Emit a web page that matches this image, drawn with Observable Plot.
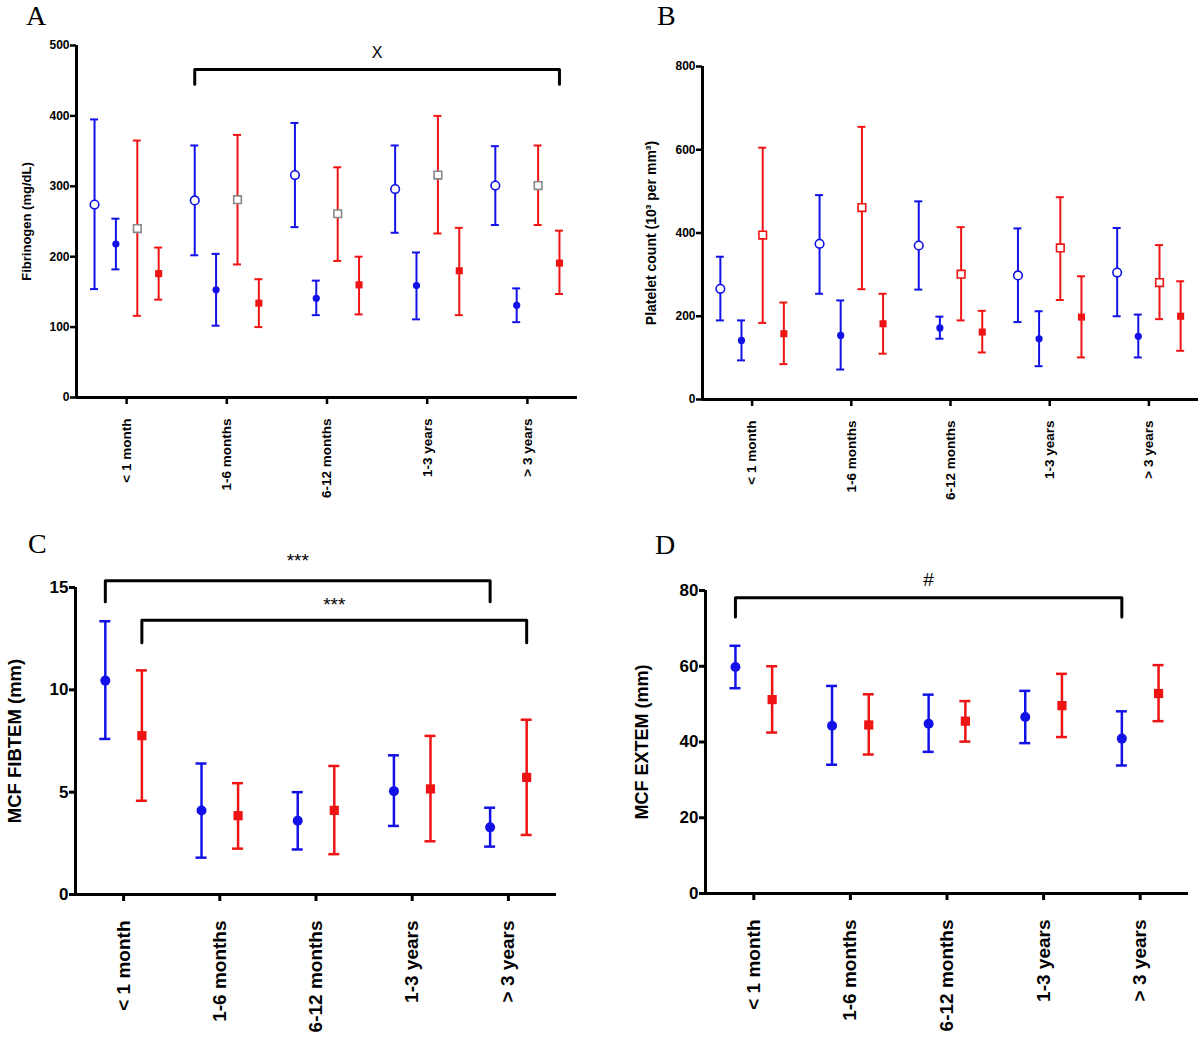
<!DOCTYPE html>
<html><head><meta charset="utf-8">
<script src="https://cdn.jsdelivr.net/npm/d3@7"></script>
<script src="https://cdn.jsdelivr.net/npm/@observablehq/plot@0.6"></script>
<style>
body{margin:0;background:#fff;}
#wrap{position:relative;width:1200px;height:1039px;background:#fff;overflow:hidden}
.panel{position:absolute}
.letter{position:absolute;font-family:"Liberation Serif","Times New Roman",serif;font-size:28px;color:#000;line-height:1.1}
</style></head><body><div id="wrap"></div>
<script>
// ---------- data ----------
const categories = ["< 1 month", "1-6 months", "6-12 months", "1-3 years", "> 3 years"];

// Panel A: Fibrinogen (mg/dL), each entry [mean, low, high] per category
const fibBlueOpen   = [[274,154,395],[280,202,358],[316,242,390],[296,234,358],[301,245,357]];
const fibBlueFilled = [[218,182,254],[153,102,204],[141,117,166],[159,111,206],[131,107,155]];
const fibGrayOpen   = [[240,116,365],[281,189,373],[261,194,327],[316,233,400],[301,245,358]];
const fibRedFilled  = [[176,139,213],[134,100,168],[160,118,200],[180,117,241],[191,147,237]];
const fibTicks = [0,100,200,300,400,500];

// Panel B: Platelet count
const pltBlueOpen   = [[266,190,343],[374,254,491],[370,264,476],[298,186,411],[305,200,412]];
const pltBlueFilled = [[142,94,190],[154,72,238],[172,146,199],[146,80,212],[152,101,204]];
const pltRedOpen    = [[395,184,605],[461,265,655],[301,190,414],[364,239,486],[281,193,371]];
const pltRedFilled  = [[158,85,233],[182,110,254],[162,113,213],[198,101,296],[200,117,284]];
const pltTicks = [0,200,400,600,800];

// Panel C: MCF FIBTEM (mm)
const fibtemBlue = [[10.45,7.6,13.35],[4.1,1.8,6.4],[3.6,2.2,5.0],[5.05,3.35,6.8],[3.28,2.34,4.24]];
const fibtemRed  = [[7.76,4.58,10.95],[3.85,2.24,5.44],[4.11,1.97,6.28],[5.16,2.6,7.75],[5.72,2.91,8.54]];
const fibtemTicks = [0,5,10,15];

// Panel D: MCF EXTEM (mm)
const extemBlue = [[59.8,54.2,65.4],[44.3,34.0,54.8],[44.8,37.4,52.5],[46.6,39.7,53.5],[40.9,33.8,48.1]];
const extemRed  = [[51.2,42.5,60.0],[44.5,36.7,52.6],[45.5,40.1,50.8],[49.6,41.3,58.0],[52.8,45.5,60.3]];
const extemTicks = [0,20,40,60,80];

// significance brackets: from [category, series] to [category, series], bar level, end level, label level
const bracketsA = [{from:[1,0], to:[4,3], y:466, end:445, ty:490, label:"X"}];
const bracketsC = [
  {from:[0,0], to:[4,0], y:15.33, end:14.3, ty:16.3, label:"***"},
  {from:[0,1], to:[4,1], y:13.4, end:12.3, ty:14.15, label:"***"}
];
const bracketsD = [{from:[0,0], to:[4,0], y:78.1, end:73, ty:82.8, label:"#"}];

// ---------- styles ----------
const BLUE = "#1212e8", RED = "#ee1414", GRAY = "#888888";
const FONT = "'Liberation Sans', Arial, Helvetica, sans-serif";

function panel(cfg) {
  const {series, offsets, yDomain, yTicks, yLabel, width, height, margins, tickFont, xFont, labelFont,
         labelDx, cap, barW, brackets, bracketFont, axisW, xPad} = cfg;
  const X = (ci, si) => ci + offsets[si];
  const marks = [];
  series.forEach((s, si) => {
    const rows = s.values.map((v, ci) => ({x: X(ci, si), mean: v[0], lo: v[1], hi: v[2]}));
    marks.push(Plot.ruleX(rows, {x: "x", y1: "lo", y2: "hi", stroke: s.bar, strokeWidth: barW}));
    marks.push(Plot.ruleY(rows, {x1: "x", x2: "x", y: "hi", stroke: s.bar, strokeWidth: barW, insetLeft: -cap, insetRight: -cap}));
    marks.push(Plot.ruleY(rows, {x1: "x", x2: "x", y: "lo", stroke: s.bar, strokeWidth: barW, insetLeft: -cap, insetRight: -cap}));
    marks.push(Plot.dot(rows, {x: "x", y: "mean", symbol: s.symbol, r: s.r,
      fill: s.open ? "white" : s.color, stroke: s.color, strokeWidth: s.open ? 1.6 : 0}));
  });
  const lines = brackets.flatMap((b, bi) => {
    const x1 = X(b.from[0], b.from[1]), x2 = X(b.to[0], b.to[1]);
    return [{k: bi, x: x1, y: b.end}, {k: bi, x: x1, y: b.y}, {k: bi, x: x2, y: b.y}, {k: bi, x: x2, y: b.end}];
  });
  const labels = brackets.map(b => ({x: (X(b.from[0], b.from[1]) + X(b.to[0], b.to[1])) / 2, y: b.ty, t: b.label}));
  marks.push(Plot.line(lines, {x: "x", y: "y", z: "k", stroke: "black", strokeWidth: 3, curve: "linear"}));
  marks.push(Plot.text(labels, {x: "x", y: "y", text: "t", fontSize: bracketFont, fontWeight: "normal", fill: "black"}));
  // axes
  marks.push(Plot.axisY({ticks: yTicks, tickSize: 6, strokeWidth: axisW, tickPadding: 1, fontSize: tickFont,
    label: null, fontWeight: "bold"}));
  marks.push(Plot.axisX({ticks: [0,1,2,3,4], tickFormat: i => categories[i], tickRotate: -90, tickSize: 7,
    strokeWidth: axisW, tickPadding: xPad, fontSize: xFont, label: null, fontWeight: "bold"}));
  marks.push(Plot.ruleY([yDomain[0]], {x1: -0.5, x2: 4.5, stroke: "black", strokeWidth: 3}));
  marks.push(Plot.ruleX([-0.5], {y1: yDomain[0], y2: yDomain[1], stroke: "black", strokeWidth: 3}));
  marks.push(Plot.text([yLabel], {frameAnchor: "left", text: d => d, rotate: -90, dx: labelDx,
    textAnchor: "middle", lineAnchor: "middle", fontSize: labelFont, fontWeight: "bold", fill: "black"}));
  return Plot.plot({
    width, height,
    marginLeft: margins[0], marginRight: margins[1], marginTop: margins[2], marginBottom: margins[3],
    x: {type: "linear", domain: [-0.5, 4.5]},
    y: {type: "linear", domain: yDomain},
    style: {fontFamily: FONT, fontWeight: "bold", fontSize: tickFont + "px", color: "black", background: "transparent", overflow: "visible"},
    marks
  });
}

const off4 = [-0.32, -0.107, 0.107, 0.32];
const off2 = [-0.19, 0.19];

const wrap = document.getElementById("wrap");
function place(node, left, top) {
  const d = document.createElement("div");
  d.className = "panel"; d.style.left = left + "px"; d.style.top = top + "px";
  d.appendChild(node); wrap.appendChild(d);
}
function letter(t, left, top) {
  const d = document.createElement("div");
  d.className = "letter"; d.textContent = t; d.style.left = left + "px"; d.style.top = top + "px";
  wrap.appendChild(d);
}

place(panel({
  series: [
    {values: fibBlueOpen, color: BLUE, bar: BLUE, symbol: "circle", r: 4.3, open: true},
    {values: fibBlueFilled, color: BLUE, bar: BLUE, symbol: "circle", r: 3.6, open: false},
    {values: fibGrayOpen, color: GRAY, bar: RED, symbol: "square", r: 4.3, open: true},
    {values: fibRedFilled, color: RED, bar: RED, symbol: "square", r: 4.0, open: false}
  ],
  offsets: off4, yDomain: [0, 500], yTicks: fibTicks, yLabel: "Fibrinogen (mg/dL)",
  width: 600, height: 520, margins: [76, 23, 45, 123], tickFont: 12, xFont: 13.5, labelFont: 13, labelDx: -50,
  cap: 4, barW: 2, brackets: bracketsA, bracketFont: 16, axisW: 2.5, xPad: 14
}), 0, 0);

place(panel({
  series: [
    {values: pltBlueOpen, color: BLUE, bar: BLUE, symbol: "circle", r: 4.3, open: true},
    {values: pltBlueFilled, color: BLUE, bar: BLUE, symbol: "circle", r: 3.6, open: false},
    {values: pltRedOpen, color: RED, bar: RED, symbol: "square", r: 4.3, open: true},
    {values: pltRedFilled, color: RED, bar: RED, symbol: "square", r: 4.0, open: false}
  ],
  offsets: off4, yDomain: [0, 800], yTicks: pltTicks, yLabel: "Platelet count (10³ per mm³)",
  width: 600, height: 520, margins: [102, 2, 66, 121], tickFont: 12, xFont: 13.5, labelFont: 14, labelDx: -51,
  cap: 4, barW: 2, brackets: [], bracketFont: 16, axisW: 2.5, xPad: 14
}), 600, 0);

place(panel({
  series: [
    {values: fibtemBlue, color: BLUE, bar: BLUE, symbol: "circle", r: 5, open: false},
    {values: fibtemRed, color: RED, bar: RED, symbol: "square", r: 5.2, open: false}
  ],
  offsets: off2, yDomain: [0, 15], yTicks: fibtemTicks, yLabel: "MCF FIBTEM (mm)",
  width: 600, height: 519, margins: [75, 44, 67, 145], tickFont: 17, xFont: 19, labelFont: 18.5, labelDx: -60,
  cap: 5.5, barW: 2.5, brackets: bracketsC, bracketFont: 19, axisW: 3, xPad: 19
}), 0, 520);

place(panel({
  series: [
    {values: extemBlue, color: BLUE, bar: BLUE, symbol: "circle", r: 5, open: false},
    {values: extemRed, color: RED, bar: RED, symbol: "square", r: 5.2, open: false}
  ],
  offsets: off2, yDomain: [0, 80], yTicks: extemTicks, yLabel: "MCF EXTEM (mm)",
  width: 600, height: 519, margins: [105, 12, 70, 146], tickFont: 17, xFont: 19, labelFont: 18, labelDx: -63,
  cap: 5.5, barW: 2.5, brackets: bracketsD, bracketFont: 19, axisW: 3, xPad: 19
}), 600, 520);

letter("A", 26, 1);
letter("B", 657, 1);
letter("C", 28, 529);
letter("D", 655, 530);
</script></body></html>
